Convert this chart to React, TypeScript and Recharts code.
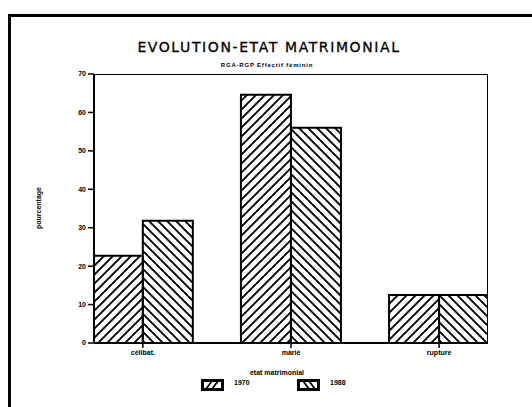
import React from 'react';
import { BarChart, Bar, XAxis, YAxis, ReferenceArea } from 'recharts';

const categories = ['célibat.', 'marié', 'rupture'];
const seriesNames = ['1970', '1988'];
const values1970 = [22.7, 64.6, 12.5];
const values1988 = [31.8, 56.0, 12.5];
const yTicks = [0, 10, 20, 30, 40, 50, 60, 70];

const data = categories.map((c, i) => ({ x: i + 1, name: c, a: values1970[i], b: values1988[i] }));

const small: React.CSSProperties = {
  position: 'absolute',
  fontFamily: 'Liberation Sans, Arial, sans-serif',
  fontWeight: 700,
  fontSize: 7,
  color: '#000',
  whiteSpace: 'nowrap',
};

function Swatch({ dir }: { dir: 'f' | 'b' }) {
  return (
    <svg width={23} height={12} style={{ display: 'block' }}>
      <rect x={1.5} y={1.5} width={20} height={9} fill="#fff" stroke="#000" strokeWidth={3} />
      {dir === 'f' ? (
        <path d="M5,10 L11,2 M11,10 L17,2" stroke="#000" strokeWidth={1.8} />
      ) : (
        <path d="M6,2 L12,10 M12,2 L18,10" stroke="#000" strokeWidth={1.8} />
      )}
    </svg>
  );
}

export default function App() {
  return (
    <div style={{ position: 'absolute', left: 0, top: 0, width: 532, height: 407, background: '#fff', overflow: 'hidden' }}>
      <div style={{ position: 'absolute', left: 8, top: 14, width: 530, height: 400, borderLeft: '3px solid #000', borderTop: '3px solid #000' }} />
      <div style={{ position: 'absolute', left: 0, width: 538, top: 39, textAlign: 'center', fontFamily: 'DejaVu Sans, sans-serif', fontWeight: 400, fontSize: 14, letterSpacing: 1.6, color: '#000', WebkitTextStroke: '0.3px #000' }}>
        EVOLUTION-ETAT MATRIMONIAL
      </div>
      <div style={{ ...small, left: 0, width: 534, top: 62, textAlign: 'center', fontSize: 6, letterSpacing: 0.8 }}>
        RGA-RGP Effectif féminin
      </div>
      <div style={{ ...small, left: 38, top: 208, transform: 'translate(-50%, -50%) rotate(-90deg)' }}>pourcentage</div>
      <div style={{ position: 'absolute', left: 0, top: 0 }}>
        <BarChart
          width={532}
          height={407}
          data={data}
          margin={{ top: 74, right: 44, left: 64, bottom: 44 }}
          barGap={0}
        >
          <defs>
            <pattern id="hatchF" patternUnits="userSpaceOnUse" width={9} height={9}>
              <path d="M-2,2 L2,-2 M0,9 L9,0 M7,11 L11,7" stroke="#000" strokeWidth={1.9} />
            </pattern>
            <pattern id="hatchB" patternUnits="userSpaceOnUse" width={9} height={9}>
              <path d="M-2,7 L2,11 M0,0 L9,9 M7,-2 L11,2" stroke="#000" strokeWidth={1.9} />
            </pattern>
          </defs>
          <XAxis
            type="number"
            dataKey="x"
            domain={[0.67, 3.33]}
            ticks={[1, 2, 3]}
            allowDataOverflow
            tickFormatter={(v: number) => categories[v - 1] ?? ''}
            height={20}
            tickSize={5}
            tick={{ fontSize: 7, fontWeight: 700, fill: '#000', fontFamily: 'Liberation Sans, Arial, sans-serif' }}
            axisLine={{ stroke: '#000', strokeWidth: 2 }}
            tickLine={{ stroke: '#000', strokeWidth: 1.5 }}
          />
          <YAxis
            domain={[0, 70]}
            ticks={yTicks}
            width={30}
            tickSize={6}
            interval={0}
            tick={{ fontSize: 7, fontWeight: 700, fill: '#000', fontFamily: 'Liberation Sans, Arial, sans-serif' }}
            axisLine={{ stroke: '#000', strokeWidth: 2 }}
            tickLine={{ stroke: '#000', strokeWidth: 1.5 }}
          />
          <ReferenceArea x1={0.67} x2={3.33} y1={0} y2={70} fill="none" stroke="#000" strokeWidth={2} ifOverflow="hidden" />
          <Bar dataKey="a" name={seriesNames[0]} barSize={50} fill="url(#hatchF)" stroke="#000" strokeWidth={2} isAnimationActive={false} />
          <Bar dataKey="b" name={seriesNames[1]} barSize={50} fill="url(#hatchB)" stroke="#000" strokeWidth={2} isAnimationActive={false} />
        </BarChart>
      </div>
      <div style={{ ...small, left: 0, width: 554, top: 369, textAlign: 'center' }}>état matrimonial</div>
      <div style={{ position: 'absolute', left: 201, top: 379 }}><Swatch dir="f" /></div>
      <div style={{ ...small, left: 234, top: 379 }}>{seriesNames[0]}</div>
      <div style={{ position: 'absolute', left: 297, top: 379 }}><Swatch dir="b" /></div>
      <div style={{ ...small, left: 330, top: 379 }}>{seriesNames[1]}</div>
    </div>
  );
}
